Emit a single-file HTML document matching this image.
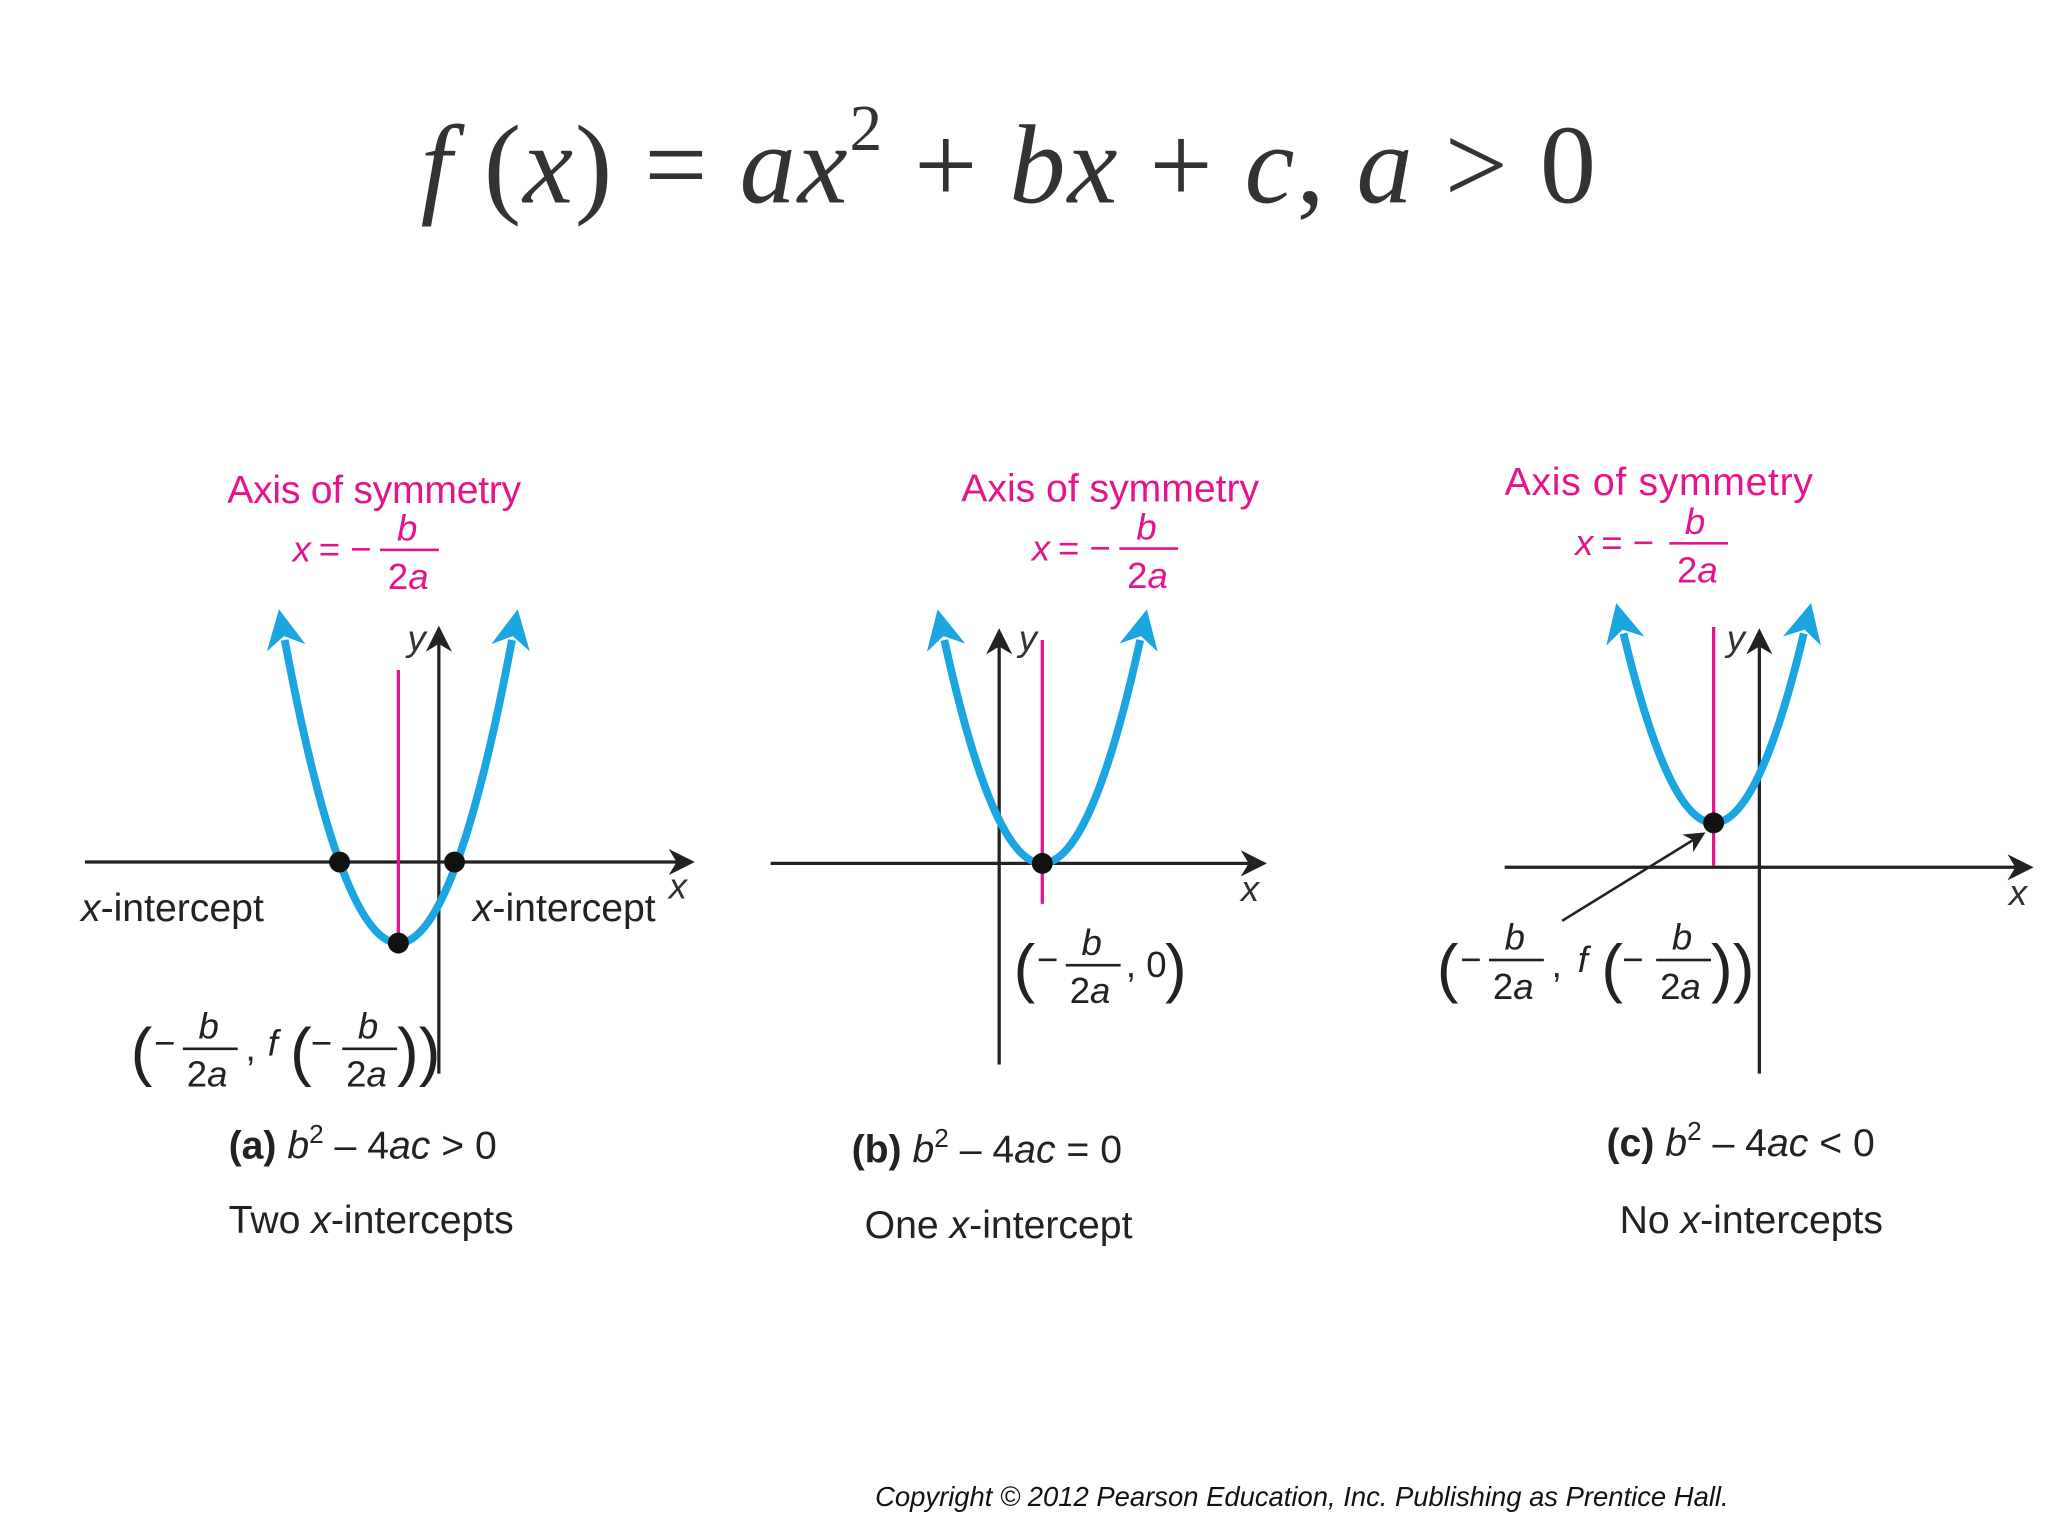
<!DOCTYPE html>
<html><head><meta charset="utf-8"><style>
html,body{margin:0;padding:0;background:#fff;}
svg{display:block;}
.s{font-family:"Liberation Sans",sans-serif;}
.p{fill:#e4148c;}
</style></head><body>
<svg width="2048" height="1536" viewBox="0 0 1568 1176" xmlns="http://www.w3.org/2000/svg">
<defs>
<marker id="bh" viewBox="0 0 10 10" refX="2" refY="5" markerWidth="5" markerHeight="6" orient="auto-start-reverse" markerUnits="strokeWidth">
<path d="M0,0 L10,5 L0,10 L3,5 z" fill="#1ba6e1"/></marker>
<marker id="ka" viewBox="0 0 10 10" refX="8" refY="5" markerWidth="8" markerHeight="8" orient="auto" markerUnits="strokeWidth">
<path d="M0,0 L10,5 L0,10 L3,5 z" fill="#222"/></marker>
</defs>
<rect width="1568" height="1176" fill="#fff"/>
<text x="322" y="155" font-family="Liberation Serif,serif" font-size="86" fill="#333" textLength="900" lengthAdjust="spacing"><tspan font-style="italic">f</tspan> (<tspan font-style="italic">x</tspan>) = <tspan font-style="italic">ax</tspan><tspan font-size="50" dy="-40">2</tspan><tspan dy="40"> + </tspan><tspan font-style="italic">bx</tspan> + <tspan font-style="italic">c</tspan>, <tspan font-style="italic">a</tspan> &gt; 0</text>

<g class="s">
<!-- Panel a -->
<text x="174" y="385" font-size="30" class="p" textLength="225">Axis of symmetry</text>
<text x="224" y="430" font-size="28" class="p" font-style="italic">x</text><text x="244" y="430" font-size="28" class="p">= −</text>
<text x="304" y="414" font-size="28" class="p" font-style="italic">b</text><rect x="291" y="420" width="45" height="2" fill="#e4148c"/>
<text x="297" y="451" font-size="28" class="p">2<tspan font-style="italic">a</tspan></text>
<line x1="65" y1="660" x2="528" y2="660" stroke="#222" stroke-width="2.5" marker-end="url(#ka)"/>
<line x1="336" y1="822" x2="336" y2="483" stroke="#222" stroke-width="2.5" marker-end="url(#ka)"/>
<line x1="305" y1="513" x2="305" y2="730" stroke="#e4148c" stroke-width="2.5"/>
<path d="M218,490 Q305,954 392,490" fill="none" stroke="#1ba6e1" stroke-width="6" marker-start="url(#bh)" marker-end="url(#bh)"/>
<circle cx="260" cy="660" r="8" fill="#111"/><circle cx="348" cy="660" r="8" fill="#111"/><circle cx="305" cy="722" r="8" fill="#111"/>
<text x="312" y="498" font-size="28" font-style="italic" fill="#333">y</text>
<text x="512" y="688" font-size="28" font-style="italic" fill="#333">x</text>
<text x="62" y="705" font-size="30" fill="#222"><tspan font-style="italic">x</tspan>-intercept</text>
<text x="362" y="705" font-size="30" fill="#222"><tspan font-style="italic">x</tspan>-intercept</text>
<text x="100" y="822" font-size="50" fill="#222">(</text><text x="118" y="808" font-size="28" fill="#222">−</text>
<text x="152" y="795" font-size="28" font-style="italic" fill="#222">b</text><rect x="140" y="802" width="42" height="2" fill="#222"/><text x="143" y="832" font-size="28" fill="#222">2<tspan font-style="italic">a</tspan></text>
<text x="188" y="812" font-size="28" fill="#222">,</text><text x="205" y="808" font-size="28" font-style="italic" fill="#222">f</text>
<text x="222" y="822" font-size="50" fill="#222">(</text><text x="238" y="808" font-size="28" fill="#222">−</text>
<text x="274" y="795" font-size="28" font-style="italic" fill="#222">b</text><rect x="262" y="802" width="42" height="2" fill="#222"/><text x="265" y="832" font-size="28" fill="#222">2<tspan font-style="italic">a</tspan></text>
<text x="304" y="822" font-size="50" fill="#222">))</text>
<text x="175" y="887" font-size="30" fill="#222"><tspan font-weight="bold">(a)</tspan>   <tspan font-style="italic">b</tspan><tspan font-size="20" dy="-12">2</tspan><tspan dy="12"> – 4</tspan><tspan font-style="italic">ac</tspan> &gt; 0</text>
<text x="175" y="944" font-size="30" fill="#222">Two <tspan font-style="italic">x</tspan>-intercepts</text>

<!-- Panel b -->
<text x="736" y="384" font-size="30" class="p" textLength="228">Axis of symmetry</text>
<text x="790" y="429" font-size="28" class="p" font-style="italic">x</text><text x="810" y="429" font-size="28" class="p">= −</text>
<text x="870" y="413" font-size="28" class="p" font-style="italic">b</text><rect x="857" y="419" width="45" height="2" fill="#e4148c"/>
<text x="863" y="450" font-size="28" class="p">2<tspan font-style="italic">a</tspan></text>
<line x1="590" y1="661" x2="966" y2="661" stroke="#222" stroke-width="2.5" marker-end="url(#ka)"/>
<line x1="765" y1="815" x2="765" y2="485" stroke="#222" stroke-width="2.5" marker-end="url(#ka)"/>
<line x1="798" y1="490" x2="798" y2="692" stroke="#e4148c" stroke-width="2.5"/>
<path d="M723,490 Q798,832 873,490" fill="none" stroke="#1ba6e1" stroke-width="6" marker-start="url(#bh)" marker-end="url(#bh)"/>
<circle cx="798" cy="661" r="8" fill="#111"/>
<text x="780" y="498" font-size="28" font-style="italic" fill="#333">y</text>
<text x="950" y="690" font-size="28" font-style="italic" fill="#333">x</text>
<text x="776" y="758" font-size="50" fill="#222">(</text><text x="794" y="744" font-size="28" fill="#222">−</text>
<text x="828" y="731" font-size="28" font-style="italic" fill="#222">b</text><rect x="816" y="738" width="42" height="2" fill="#222"/><text x="819" y="768" font-size="28" fill="#222">2<tspan font-style="italic">a</tspan></text>
<text x="862" y="748" font-size="28" fill="#222">, 0</text><text x="892" y="758" font-size="50" fill="#222">)</text>
<text x="652" y="890" font-size="30" fill="#222"><tspan font-weight="bold">(b)</tspan>   <tspan font-style="italic">b</tspan><tspan font-size="20" dy="-12">2</tspan><tspan dy="12"> – 4</tspan><tspan font-style="italic">ac</tspan> = 0</text>
<text x="662" y="948" font-size="30" fill="#222">One <tspan font-style="italic">x</tspan>-intercept</text>

<!-- Panel c -->
<text x="1152" y="379" font-size="30" class="p" textLength="236">Axis of symmetry</text>
<text x="1206" y="425" font-size="28" class="p" font-style="italic">x</text><text x="1226" y="425" font-size="28" class="p">= −</text>
<text x="1290" y="409" font-size="28" class="p" font-style="italic">b</text><rect x="1278" y="415" width="45" height="2" fill="#e4148c"/>
<text x="1284" y="446" font-size="28" class="p">2<tspan font-style="italic">a</tspan></text>
<line x1="1152" y1="664" x2="1553" y2="664" stroke="#222" stroke-width="2.5" marker-end="url(#ka)"/>
<line x1="1347" y1="822" x2="1347" y2="485" stroke="#222" stroke-width="2.5" marker-end="url(#ka)"/>
<line x1="1312" y1="480" x2="1312" y2="663" stroke="#e4148c" stroke-width="2.5"/>
<path d="M1243,485 Q1312,775 1381,485" fill="none" stroke="#1ba6e1" stroke-width="6" marker-start="url(#bh)" marker-end="url(#bh)"/>
<circle cx="1312" cy="630" r="8" fill="#111"/>
<line x1="1196" y1="705" x2="1303" y2="639" stroke="#222" stroke-width="2" marker-end="url(#ka)"/>
<text x="1322" y="498" font-size="28" font-style="italic" fill="#333">y</text>
<text x="1538" y="693" font-size="28" font-style="italic" fill="#333">x</text>
<text x="1100" y="758" font-size="50" fill="#222">(</text><text x="1118" y="744" font-size="28" fill="#222">−</text>
<text x="1152" y="727" font-size="28" font-style="italic" fill="#222">b</text><rect x="1140" y="734" width="42" height="2" fill="#222"/><text x="1143" y="765" font-size="28" fill="#222">2<tspan font-style="italic">a</tspan></text>
<text x="1188" y="748" font-size="28" fill="#222">,</text><text x="1208" y="744" font-size="28" font-style="italic" fill="#222">f</text>
<text x="1226" y="758" font-size="50" fill="#222">(</text><text x="1242" y="744" font-size="28" fill="#222">−</text>
<text x="1280" y="727" font-size="28" font-style="italic" fill="#222">b</text><rect x="1268" y="734" width="42" height="2" fill="#222"/><text x="1271" y="765" font-size="28" fill="#222">2<tspan font-style="italic">a</tspan></text>
<text x="1310" y="758" font-size="50" fill="#222">))</text>
<text x="1230" y="885" font-size="30" fill="#222"><tspan font-weight="bold">(c)</tspan>   <tspan font-style="italic">b</tspan><tspan font-size="20" dy="-12">2</tspan><tspan dy="12"> – 4</tspan><tspan font-style="italic">ac</tspan> &lt; 0</text>
<text x="1240" y="944" font-size="30" fill="#222">No <tspan font-style="italic">x</tspan>-intercepts</text>

<text x="670" y="1153" font-size="21" font-style="italic" fill="#111">Copyright © 2012 Pearson Education, Inc. Publishing as Prentice Hall.</text>
</g>
</svg>
</body></html>
